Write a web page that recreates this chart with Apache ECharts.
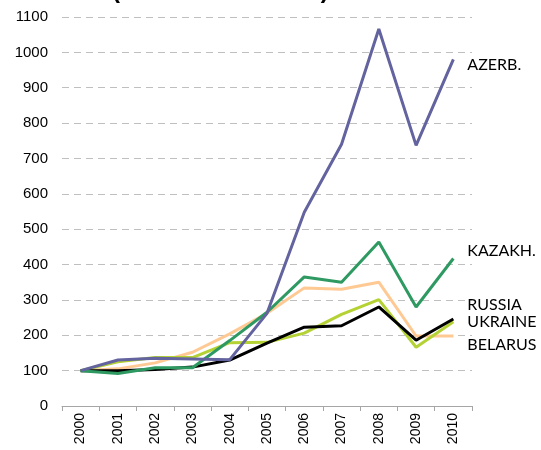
<!DOCTYPE html>
<html>
<head>
<meta charset="utf-8">
<script src="https://cdn.jsdelivr.net/npm/echarts@6/dist/echarts.min.js"></script>
<style>
  html, body { margin: 0; padding: 0; background: #fff; }
  #chart { width: 541px; height: 450px; }
</style>
</head>
<body>
<div id="chart"></div>
<script>
// index, 2000 = 100
const years = ['2000', '2001', '2002', '2003', '2004', '2005', '2006', '2007', '2008', '2009', '2010'];
const azerb   = [100, 130, 135, 133, 131, 262, 548, 740, 1066, 737, 980];
const kazakh  = [100, 92, 108, 108, 185, 265, 365, 350, 464, 280, 417];
const russia  = [100, 100, 103, 110, 130, 178, 223, 227, 280, 186, 246];
const ukraine = [100, 125, 137, 137, 179, 180, 206, 259, 301, 166, 238];
const belarus = [100, 105, 122, 152, 204, 262, 334, 330, 350, 198, 198];
const yTicks = [0, 1100, 100]; // min, max, step

const chartDom = document.getElementById('chart');
const myChart = echarts.init(chartDom);

// 线
function line(name, data, color, label, dy) {
  return {
    name: name,
    type: 'line',
    data: data,
    symbol: 'none',
    lineStyle: { color: color, width: 3 },
    endLabel: {
      show: true,
      formatter: label,
      color: '#000',
      fontFamily: 'Lato',
      fontSize: 16,
      distance: 14,
      offset: [0, dy]
    },
    z: 3
  };
}

const option = {
  animation: false,
  graphic: [{
    type: 'text',
    left: 112,
    top: -21,
    style: { text: '(INDEX 2000 = 100)', font: 'bold 24px Liberation Sans', fill: '#000' }
  }],
  grid: { left: 62, right: 69, top: 17, bottom: 44 },
  xAxis: {
    type: 'category',
    data: years,
    boundaryGap: true,
    axisLine: { lineStyle: { color: '#A6A6A6' } },
    axisTick: { show: true, length: 5, lineStyle: { color: '#A6A6A6' } },
    axisLabel: {
      rotate: 90, interval: 0, margin: 7,
      color: '#000', fontFamily: 'Liberation Sans', fontSize: 14
    }
  },
  yAxis: {
    type: 'value',
    min: yTicks[0], max: yTicks[1], interval: yTicks[2],
    axisLine: { show: false },
    axisTick: { show: false },
    axisLabel: {
      color: '#000', fontFamily: 'Liberation Sans', fontSize: 15, margin: 14,
      formatter: v => String(v)
    },
    splitLine: { lineStyle: { color: '#BFBFBF', type: [7, 5], width: 1 } }
  },
  series: [
    line('BELARUS', belarus, '#FFC994', 'BELARUS', 9),
    line('UKRAINE', ukraine, '#B4D234', 'UKRAINE', 0),
    line('RUSSIA', russia, '#000000', 'RUSSIA', -14),
    line('KAZAKH.', kazakh, '#2E9A62', 'KAZAKH.', -8),
    line('AZERB.', azerb, '#63639F', 'AZERB.', 5)
  ]
};

myChart.setOption(option);
</script>
</body>
</html>
